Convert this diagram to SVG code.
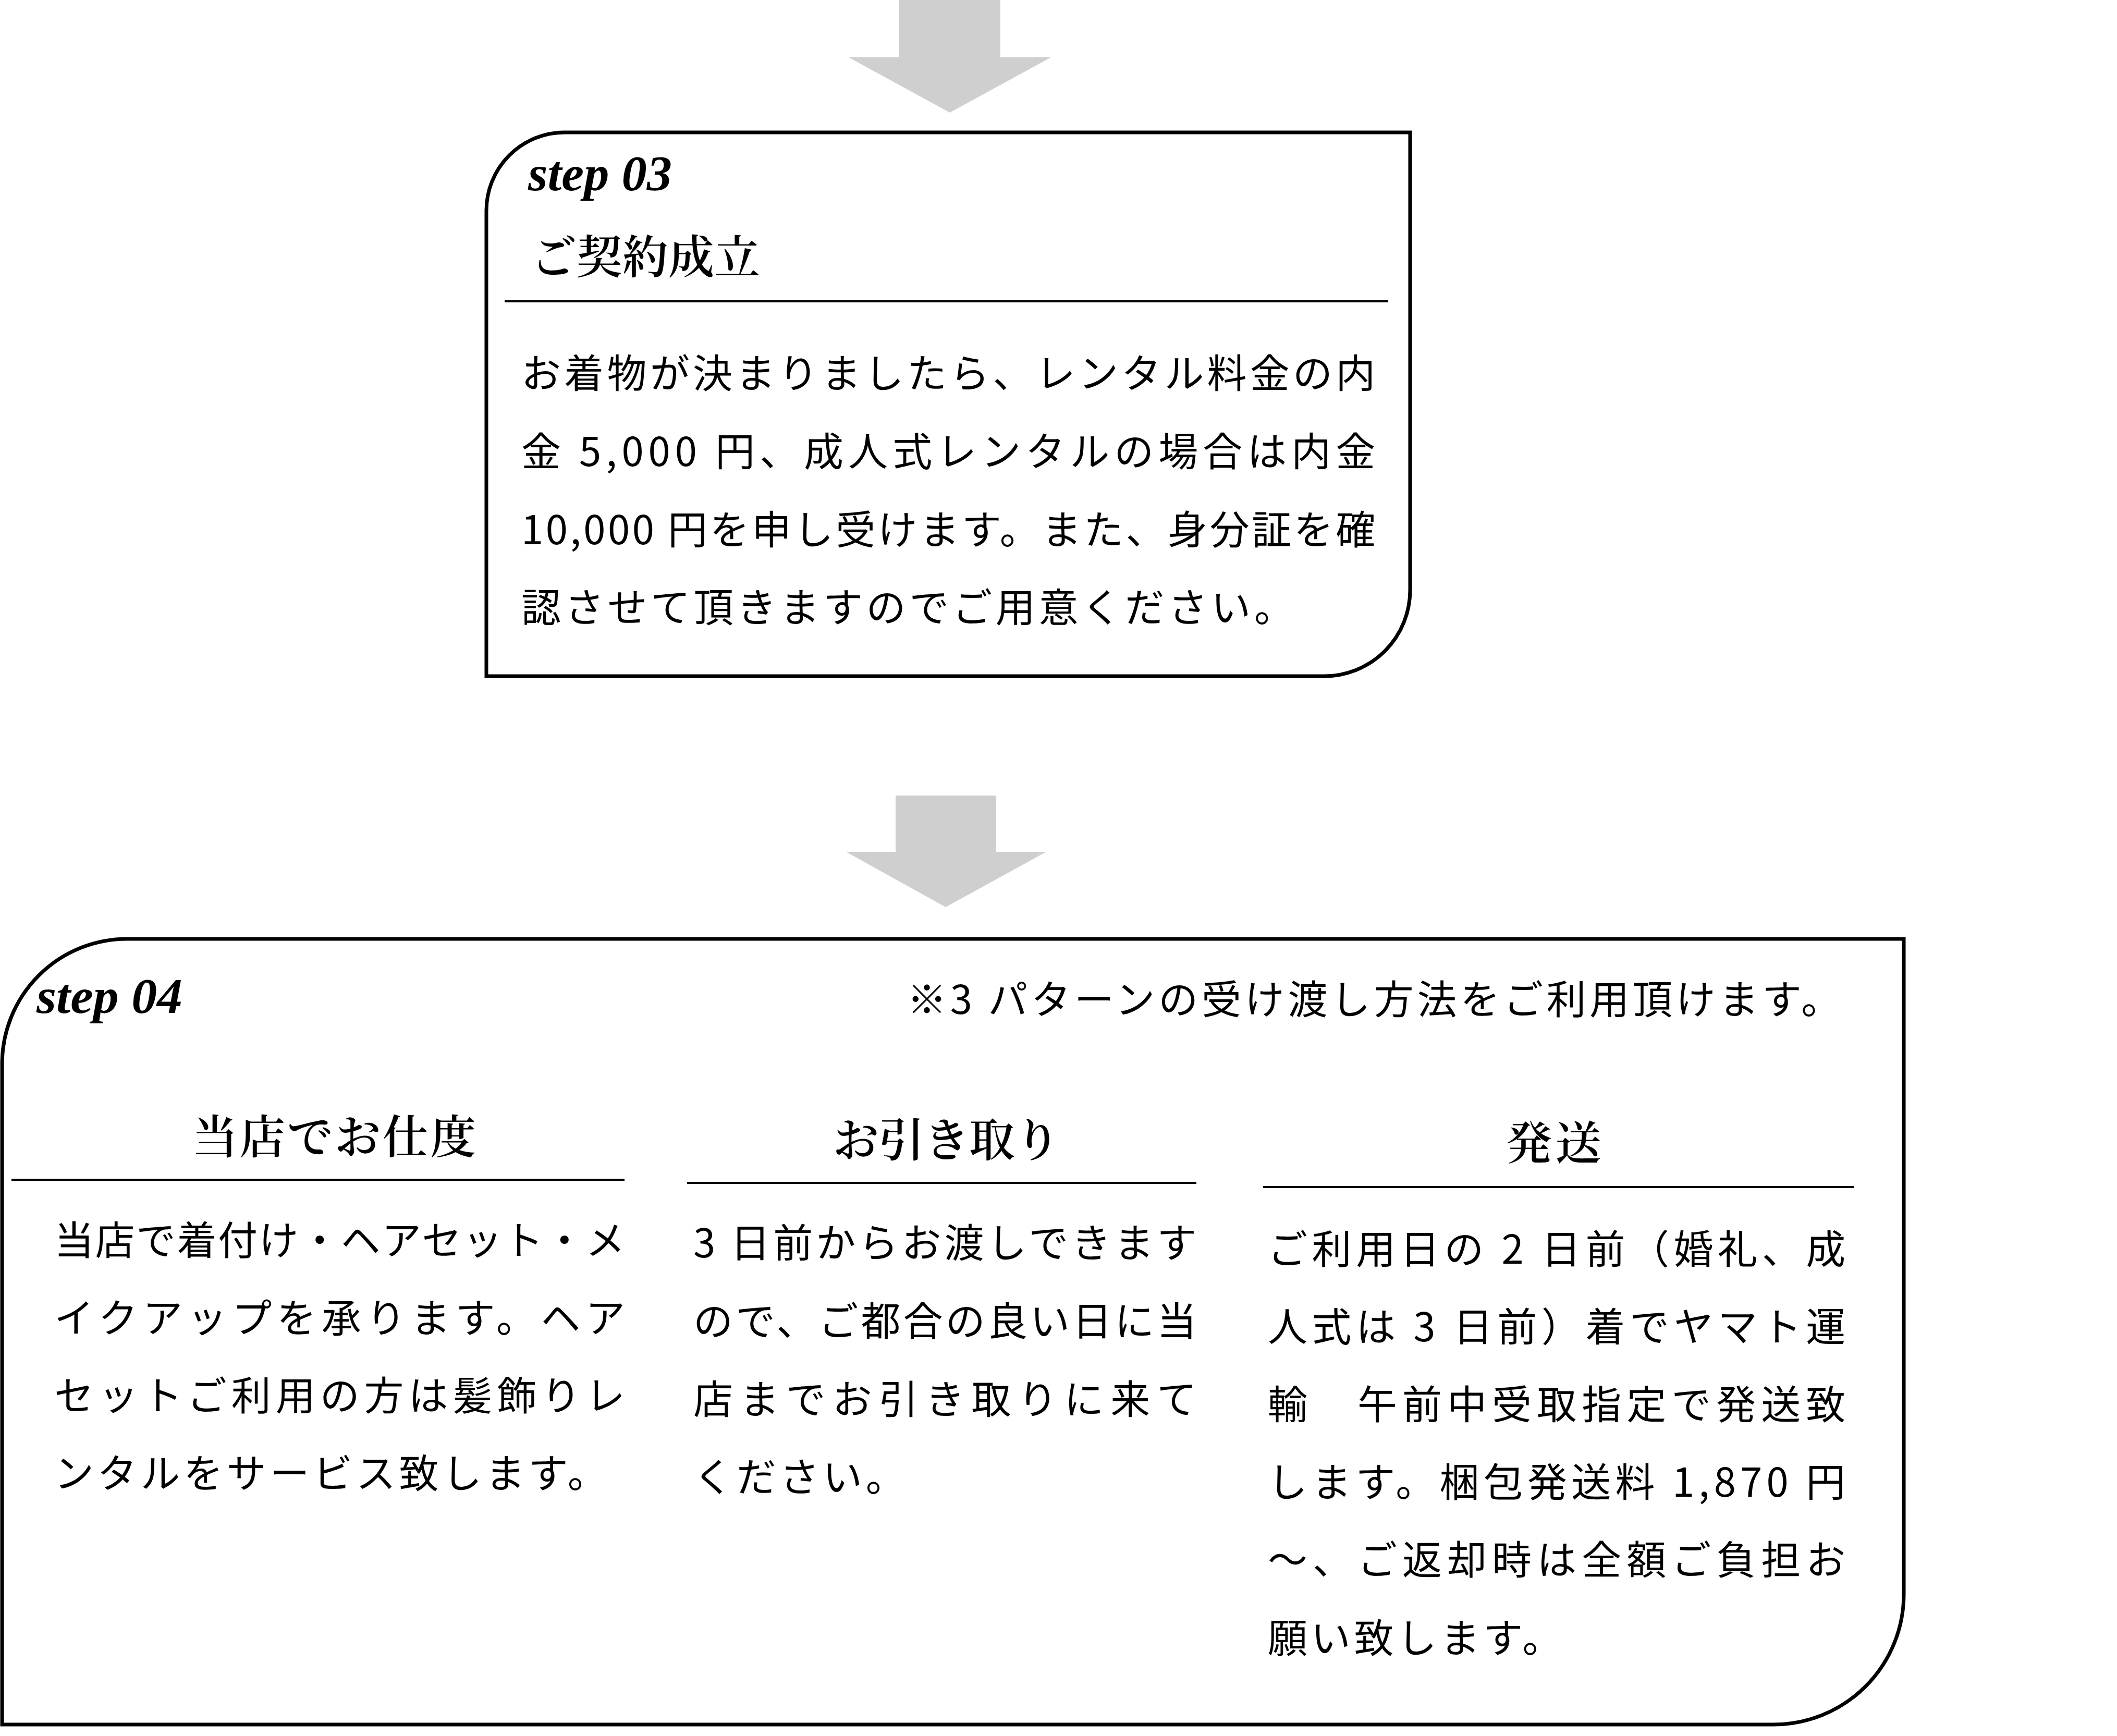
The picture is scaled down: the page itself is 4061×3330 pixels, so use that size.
<svg xmlns="http://www.w3.org/2000/svg" width="4061" height="3330" viewBox="0 0 4061 3330">
<style>
.box{fill:#fff;stroke:#000;stroke-width:7}
.sep{stroke:#000;stroke-width:4}
.arrow{fill:#d0cfd0}
.body{font-family:"Noto Sans CJK JP","Noto Sans",sans-serif;font-size:76px;letter-spacing:6.7px;fill:#000}
.head{font-family:"Noto Serif CJK JP","Noto Sans CJK JP",serif;font-size:88px;font-weight:600;fill:#000}
.step{font-family:"Liberation Serif",serif;font-style:italic;font-weight:bold;font-size:96px;fill:#000}
</style>
<rect width="4061" height="3330" fill="#fff"/>
<g id="connectors">
<polygon class="arrow" points="1724,0 1919,0 1919,110 2016,110 1822,216 1628,110 1724,110"/>
<polygon class="arrow" points="1718,1526 1911,1526 1911,1634 2007,1634 1814,1740 1623,1634 1718,1634"/>
</g>
<g id="step03">
<path class="box" d="M933 404 A150 150 0 0 1 1083 254 L2705 254 L2705 1132 A165 165 0 0 1 2540 1297 L933 1297 Z"/>
<text class="step" x="1013" y="365" textLength="276" lengthAdjust="spacingAndGlyphs">step 03</text>
<text class="head" x="1018" y="524" textLength="440" lengthAdjust="spacing">ご契約成立</text>
<line class="sep" x1="968" y1="578" x2="2663" y2="578"/>
<text class="body" x="1000" y="744" textLength="1645" lengthAdjust="spacing">お着物が決まりましたら、レンタル料金の内</text>
<text class="body" x="1000" y="894" textLength="1645" lengthAdjust="spacing">金 5,000 円、成人式レンタルの場合は内金</text>
<text class="body" x="1000" y="1044" textLength="1645" lengthAdjust="spacing">10,000 円を申し受けます。また、身分証を確</text>
<text class="body" x="1000" y="1193">認させて頂きますのでご用意ください。</text>
</g>
<g id="step04">
<path class="box" d="M4 2041 A240 240 0 0 1 244 1801 L3652 1801 L3652 3058 A250 250 0 0 1 3402 3308 L4 3308 Z"/>
<text class="step" x="70" y="1943" textLength="280" lengthAdjust="spacingAndGlyphs">step 04</text>
<text class="body" x="1740" y="1945">※3 パターンの受け渡し方法をご利用頂けます。</text>
<g id="col-shitaku">
<text class="head" x="368" y="2212" textLength="545" lengthAdjust="spacing">当店でお仕度</text>
<line class="sep" x1="22" y1="2263" x2="1198" y2="2263"/>
<text class="body" x="104" y="2407" textLength="1102" lengthAdjust="spacing">当店で着付け・ヘアセット・メ</text>
<text class="body" x="104" y="2556" textLength="1102" lengthAdjust="spacing">イクアップを承ります。ヘア</text>
<text class="body" x="104" y="2705" textLength="1102" lengthAdjust="spacing">セットご利用の方は髪飾りレ</text>
<text class="body" x="104" y="2854">ンタルをサービス致します。</text>
</g>
<g id="col-hikitori">
<text class="head" x="1598" y="2218" textLength="436" lengthAdjust="spacing">お引き取り</text>
<line class="sep" x1="1318" y1="2269" x2="2295" y2="2269"/>
<text class="body" x="1330" y="2412" textLength="972" lengthAdjust="spacing">3 日前からお渡しできます</text>
<text class="body" x="1330" y="2562" textLength="972" lengthAdjust="spacing">ので、ご都合の良い日に当</text>
<text class="body" x="1330" y="2712" textLength="972" lengthAdjust="spacing">店までお引き取りに来て</text>
<text class="body" x="1330" y="2861">ください。</text>
</g>
<g id="col-hassou">
<text class="head" x="2889" y="2224" textLength="183" lengthAdjust="spacing">発送</text>
<line class="sep" x1="2423" y1="2277" x2="3556" y2="2277"/>
<text class="body" x="2432" y="2424" textLength="1115" lengthAdjust="spacing">ご利用日の 2 日前（婚礼、成</text>
<text class="body" x="2432" y="2573" textLength="1115" lengthAdjust="spacing">人式は 3 日前）着でヤマト運</text>
<text class="body" x="2432" y="2722" textLength="1115" lengthAdjust="spacing">輸　午前中受取指定で発送致</text>
<text class="body" x="2432" y="2871" textLength="1115" lengthAdjust="spacing">します。梱包発送料 1,870 円</text>
<text class="body" x="2432" y="3020" textLength="1115" lengthAdjust="spacing">～、ご返却時は全額ご負担お</text>
<text class="body" x="2432" y="3170">願い致します。</text>
</g>
</g>
</svg>
